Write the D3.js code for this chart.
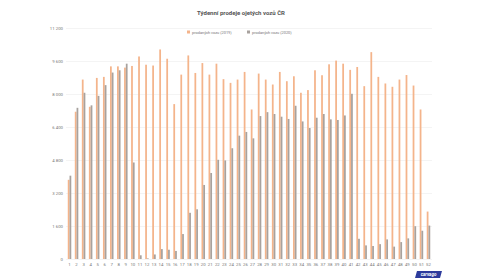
<!DOCTYPE html>
<html>
<head>
<meta charset="utf-8">
<script src="https://cdn.jsdelivr.net/npm/d3@7"></script>
<style>
  body { margin: 0; background: #fff; }
  svg { display: block; font-family: Roboto, sans-serif; }
</style>
</head>
<body>
<svg id="chart" width="500" height="280"></svg>
<script>
// weekly sales
var weeks = d3.range(1, 53);
var sales2019 = [3840, 7140, 8700, 7380, 8780, 8830, 9340, 9340, 9280, 9360,
                 9820, 9420, 9380, 10160, 9710, 7510, 8940, 9870, 9020, 9500,
                 8940, 9470, 8720, 8540, 8700, 9070, 7250, 8990, 8700, 8460,
                 9070, 8620, 8860, 8060, 8190, 9150, 8910, 9440, 9620, 9470,
                 9170, 9310, 8380, 10030, 8830, 8510, 8350, 8700, 8920, 8410,
                 7250, 2300];
var sales2020 = [4040, 7330, 8060, 7450, 7910, 8430, 9040, 9150, 9470, 4680,
                 180, 30, 220, 480, 450, 390, 1210, 2240, 2410, 3590,
                 4170, 4810, 4780, 5370, 5980, 6160, 5850, 6930, 7120, 7030,
                 6900, 6790, 7430, 6670, 6350, 6850, 7030, 6770, 6740, 6960,
                 8010, 980, 660, 630, 720, 950, 600, 820, 1000, 1590,
                 1370, 1620];
var seriesNames = ["prodaných vozů (2019)", "prodaných vozů (2020)"];
var yTicks = [0, 1600, 3200, 4800, 6400, 8000, 9600, 11200];

var colors = ["#F4B48B", "#A8A29E"];

var svg = d3.select('#chart');
var mLeft = 66, mRight = 432, mTop = 28, mBottom = 259;

var x = d3.scaleBand().domain(weeks).range([mLeft, mRight]).paddingInner(0.5).paddingOuter(0.25);
var xs = d3.scaleBand().domain([0, 1]).range([0, x.bandwidth()]);
var y = d3.scaleLinear().domain([0, 11200]).range([mBottom, mTop]);

var fmt = d3.formatLocale({decimal: ",", thousands: " ", grouping: [3], currency: ["", ""]}).format(",");

// title
svg.append("text")
  .attr("x", 241).attr("y", 15)
  .attr("text-anchor", "middle")
  .attr("font-size", "6px")
  .attr("font-weight", "bold")
  .attr("fill", "#555")
  .text("Týdenní prodeje ojetých vozů ČR");

// gridlines + y labels
var ya = svg.append("g").attr("id", "y-axis")
  .attr("transform", "translate(" + mLeft + ",0)")
  .call(d3.axisLeft(y).tickValues(yTicks).tickSize(-(mRight - mLeft)).tickPadding(3).tickFormat(fmt));
ya.select(".domain").remove();
ya.selectAll("line").attr("stroke", "#ececec").attr("stroke-width", 0.6);
ya.selectAll("text").attr("font-size", "4.3px").attr("fill", "#777").attr("font-family", "Roboto, sans-serif");

// bars
var data = weeks.map(function(w, i) { return {week: w, vals: [sales2019[i], sales2020[i]]}; });
var groups = svg.append("g").attr("id", "plots").selectAll("g")
  .data(data).join("g")
  .attr("transform", function(d) { return "translate(" + x(d.week) + ",0)"; });
groups.selectAll("rect")
  .data(function(d) { return d.vals.map(function(v, k) { return {k: k, v: v}; }); })
  .join("rect")
  .attr("x", function(d) { return xs(d.k); })
  .attr("width", xs.bandwidth())
  .attr("y", function(d) { return y(d.v); })
  .attr("height", function(d) { return y(0) - y(d.v); })
  .attr("fill", function(d) { return colors[d.k]; });

// x labels
var xa = svg.append("g").attr("id", "x-axis")
  .attr("transform", "translate(0," + mBottom + ")")
  .call(d3.axisBottom(x).tickSize(0).tickPadding(4));
xa.select(".domain").remove();
xa.selectAll("text").attr("font-size", "4.3px").attr("fill", "#777").attr("font-family", "Roboto, sans-serif");

// legend
var legX = [187, 247];
var leg = svg.append("g").attr("id", "legend");
seriesNames.forEach(function(n, i) {
  leg.append("rect").attr("x", legX[i]).attr("y", 30.5).attr("width", 3).attr("height", 3).attr("fill", colors[i]);
  leg.append("text").attr("x", legX[i] + 5).attr("y", 33.5)
    .attr("font-size", "3.9px").attr("fill", "#777").text(n);
});

// logo
var logo = svg.append("g").attr("transform", "translate(415,271)");
logo.append("path").attr("d", "M2,0 L27,0 L25,7 L0,7 Z").attr("fill", "#2d3b9c");
logo.append("text").attr("x", 13.5).attr("y", 5).attr("text-anchor", "middle")
  .attr("font-size", "4.5px").attr("font-weight", "bold").attr("font-style", "italic")
  .attr("fill", "#fff").text("carvago");
</script>
</body>
</html>
